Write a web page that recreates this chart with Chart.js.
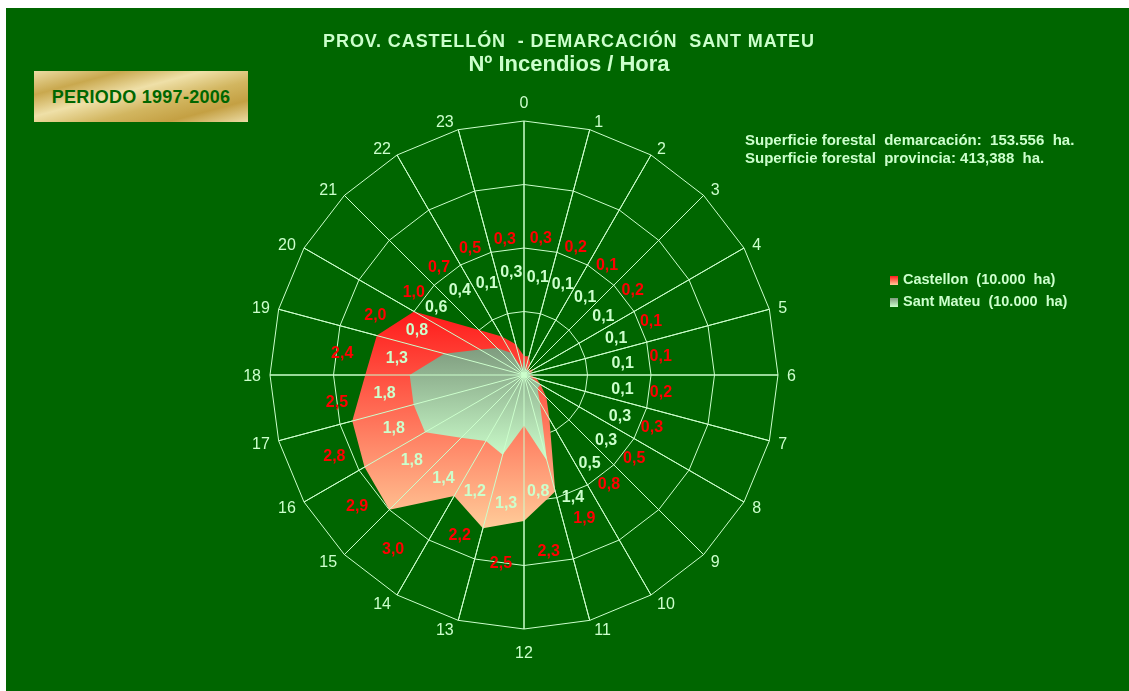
<!DOCTYPE html>
<html>
<head>
<meta charset="utf-8">
<script src="https://cdn.jsdelivr.net/npm/chart.js@4.4.0/dist/chart.umd.min.js"></script>
<style>
html, body { margin: 0; padding: 0; background: #fff; }
#wrap { position: relative; width: 1129px; height: 691px; overflow: hidden; font-family: "Liberation Sans", Arial, sans-serif; }
#bg { position: absolute; left: 6px; top: 8px; right: 0; bottom: 0; background: #006600; }
#radar { position: absolute; left: 0; top: 0; }
.txt { position: absolute; color: #ccffcc; font-weight: bold; white-space: pre; }
#t1 { left: 269px; width: 600px; top: 30px; font-size: 18px; line-height: 22px; text-align: center; letter-spacing: 0.9px; }
#t2 { left: 269px; width: 600px; top: 52px; font-size: 22px; line-height: 24px; text-align: center; }
#periodo { position: absolute; left: 34px; top: 71px; width: 214px; height: 51px; line-height: 53px; text-align: center;
  font-size: 18px; font-weight: bold; color: #006600; letter-spacing: 0.25px;
  background: linear-gradient(165deg, #ecdda4 0%, #c9a84e 22%, #efe0a8 42%, #d2b660 62%, #c4a043 80%, #ecdca6 100%); }
#nota { left: 745px; top: 131px; font-size: 15px; line-height: 18.3px; }
#legend { position: absolute; left: 890px; top: 268px; }
.item { height: 22.4px; line-height: 22px; color: #ccffcc; font-weight: bold; font-size: 14.5px; white-space: pre; }
.sw { display: inline-block; width: 8px; height: 9px; margin-right: 5px; vertical-align: -1px; }
</style>
</head>
<body>
<div id="wrap">
  <div id="bg"></div>
  <canvas id="radar" width="1129" height="691"></canvas>
  <div class="txt" id="t1">PROV. CASTELLÓN  - DEMARCACIÓN  SANT MATEU</div>
  <div class="txt" id="t2">Nº Incendios / Hora</div>
  <div id="periodo">PERIODO 1997-2006</div>
  <div class="txt" id="nota">Superficie forestal  demarcación:  153.556  ha.
Superficie forestal  provincia: 413,388  ha.</div>
  <div id="legend"></div>
</div>
<script>
var horas = ['0', '1', '2', '3', '4', '5', '6', '7', '8', '9', '10', '11',
             '12', '13', '14', '15', '16', '17', '18', '19', '20', '21', '22', '23'];
var castellon = [0.3, 0.3, 0.2, 0.1, 0.2, 0.1, 0.1, 0.2, 0.3, 0.5, 0.8, 1.9,
                 2.3, 2.5, 2.2, 3.0, 2.9, 2.8, 2.5, 2.4, 2.0, 1.0, 0.7, 0.5];
var santMateu = [0.3, 0.1, 0.1, 0.1, 0.1, 0.1, 0.1, 0.1, 0.3, 0.3, 0.5, 1.4,
                 0.8, 1.3, 1.2, 1.4, 1.8, 1.8, 1.8, 1.3, 0.8, 0.6, 0.4, 0.1];
var series = ['Castellon  (10.000  ha)', 'Sant Mateu  (10.000  ha)'];
var escalaMax = 4;

var gridColor = '#ccffcc';
var redStops = ['#ff1a1a', '#ffcc99'];
var greenStops = ['#7f9c7f', '#ccffcc'];

// vertical gradient over the shape's own height (like the excel fill)
function shapeGradient(c, stops) {
    var chart = c.chart;
    var s = chart.scales.r;
    if (!s || !chart.chartArea || s.xCenter === undefined) return stops[1];
    var data = chart.data.datasets[c.datasetIndex].data;
    var top = Infinity, bot = -Infinity;
    data.forEach(function(v, i) {
        var p = s.getPointPositionForValue(i, v);
        top = Math.min(top, p.y);
        bot = Math.max(bot, p.y);
    });
    var g = chart.ctx.createLinearGradient(0, top, 0, bot);
    g.addColorStop(0, stops[0]);
    g.addColorStop(1, stops[1]);
    return g;
}

// spokes over the fills + hour labels + value labels
var overlay = {
    id: 'overlay',
    afterDatasetsDraw: function(chart) {
        var s = chart.scales.r;
        var ctx = chart.ctx;
        var R = s.drawingArea;
        ctx.save();
        ctx.strokeStyle = gridColor;
        ctx.lineWidth = 1;
        chart.data.labels.forEach(function(l, i) {
            var p = s.getPointPosition(i, R);
            ctx.beginPath();
            ctx.moveTo(s.xCenter, s.yCenter);
            ctx.lineTo(p.x, p.y);
            ctx.stroke();
        });

        // hour labels, placed beside the outer vertex like excel does
        ctx.fillStyle = gridColor;
        ctx.font = '16px "Liberation Sans", Arial, sans-serif';
        ctx.textAlign = 'center';
        ctx.textBaseline = 'middle';
        chart.data.labels.forEach(function(l, i) {
            var a = s.getIndexAngle(i);
            var sn = Math.sin(a), cs = Math.cos(a);
            var p = s.getPointPosition(i, R);
            var w = ctx.measureText(l).width;
            var x, y;
            if (Math.abs(sn) < 0.01) {
                x = p.x;
                y = p.y + (cs > 0 ? -18 : 24);
            } else {
                x = p.x + Math.sign(sn) * (w / 2 + 3 + 6 * Math.abs(sn));
                y = p.y - 9 * cs + 1;
            }
            ctx.fillText(l, x, y + 1);
        });

        // value labels
        ctx.font = 'bold 16px "Liberation Sans", Arial, sans-serif';
        chart.data.datasets.forEach(function(ds, k) {
            ctx.fillStyle = k === 0 ? '#ff0000' : '#ccffcc';
            ds.data.forEach(function(v, i) {
                var rv = s.getDistanceFromCenterForValue(v);
                var r = k === 0 ? Math.max(138, 0.9 * rv + 46) : 97 + 0.38 * rv;
                var a = s.getIndexAngle(i) - Math.PI / 2 - (k === 0 ? 8 : 7) * Math.PI / 180;
                ctx.fillText(v.toFixed(1).replace('.', ','), s.xCenter + r * Math.cos(a), s.yCenter + r * Math.sin(a) + 1);
            });
        });
        ctx.restore();
    }
};

var ctx = document.getElementById('radar').getContext('2d');
var radarChart = new Chart(ctx, {
    type: 'radar',
    data: {
        labels: horas,
        datasets: [{
            label: series[0],
            data: castellon,
            order: 2,
            fill: true,
            borderWidth: 0,
            pointRadius: 0,
            backgroundColor: function(c) { return shapeGradient(c, redStops); }
        }, {
            label: series[1],
            data: santMateu,
            order: 1,
            fill: true,
            borderWidth: 0,
            pointRadius: 0,
            backgroundColor: function(c) { return shapeGradient(c, greenStops); }
        }]
    },
    options: {
        responsive: false,
        animation: false,
        layout: { padding: { left: 270, right: 351, top: 121, bottom: 62 } },
        plugins: {
            legend: { display: false },
            title: { display: false },
            tooltip: { enabled: false }
        },
        scales: {
            r: {
                min: 0,
                max: escalaMax,
                ticks: { display: false, stepSize: 1 },
                pointLabels: { display: false },
                grid: { color: gridColor, lineWidth: 1, circular: false },
                angleLines: { color: gridColor, lineWidth: 1 }
            }
        }
    },
    plugins: [overlay]
});

// legend built from the datasets
var swatches = [redStops, greenStops];
var legend = document.getElementById('legend');
radarChart.data.datasets.forEach(function(ds, k) {
    var item = document.createElement('div');
    item.className = 'item';
    var sw = document.createElement('span');
    sw.className = 'sw';
    sw.style.background = 'linear-gradient(' + swatches[k][0] + ', ' + swatches[k][1] + ')';
    item.appendChild(sw);
    item.appendChild(document.createTextNode(ds.label));
    legend.appendChild(item);
});
</script>
</body>
</html>
